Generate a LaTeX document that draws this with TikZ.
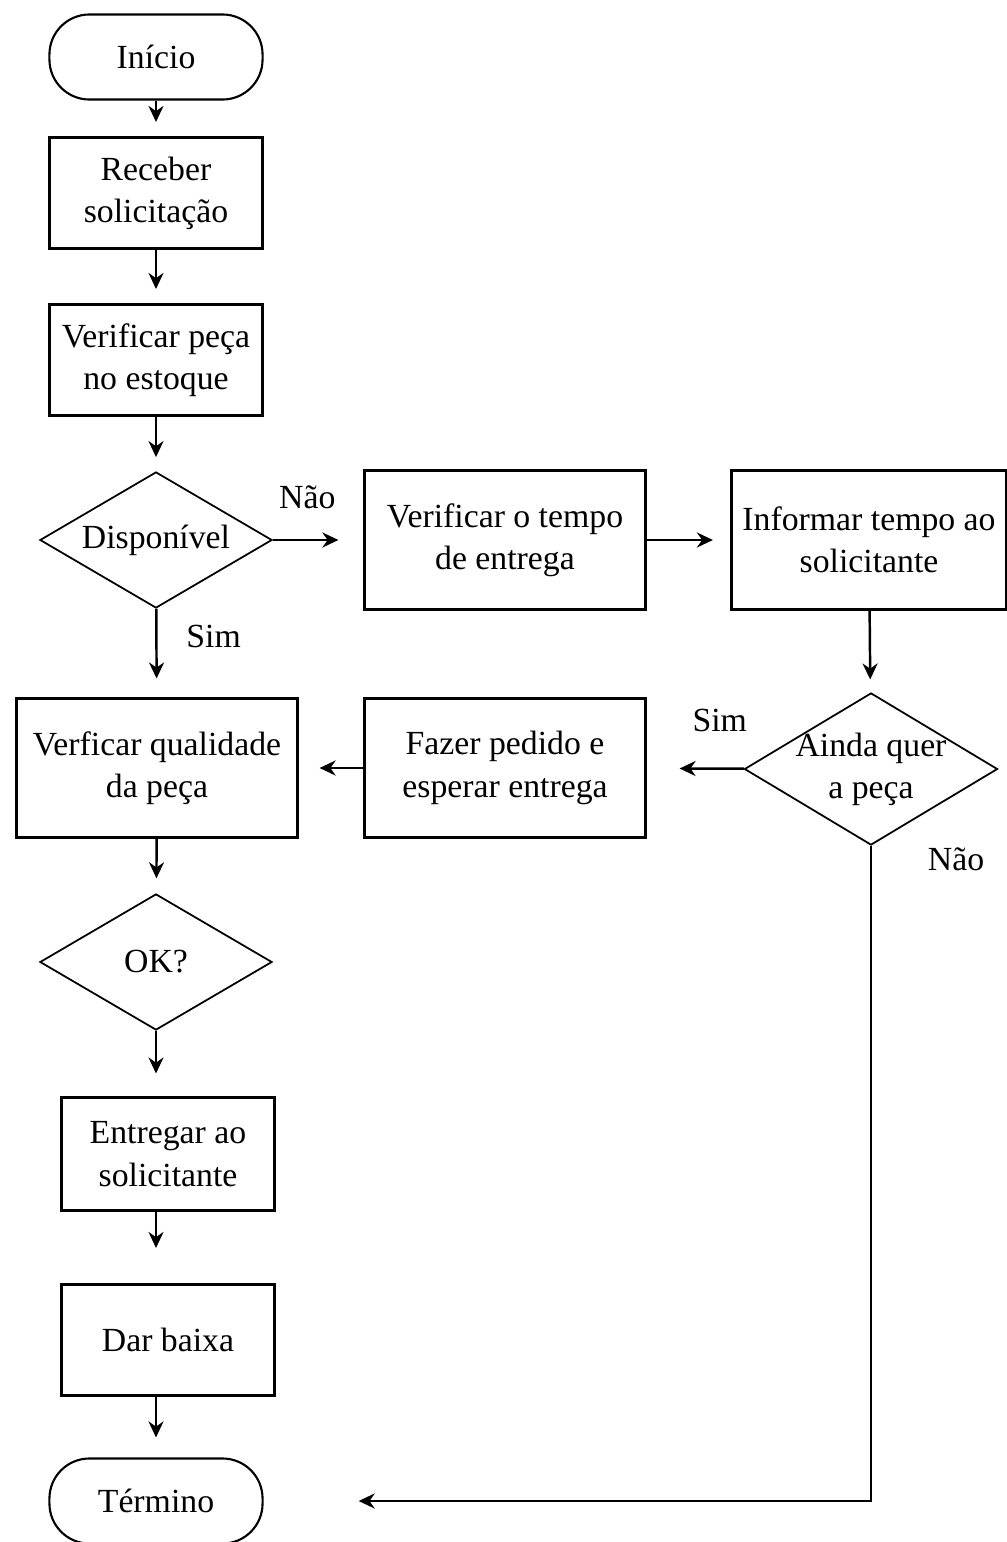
\documentclass[tikz,border=0pt]{standalone}
\usepackage{fontspec}
\setmainfont{Liberation Serif}
\usetikzlibrary{arrows.meta,shapes.geometric}

\begin{document}
\begin{tikzpicture}[x=0.01cm,y=-0.01cm,font=\fontsize{9.6}{12}\selectfont,
  term/.style={draw,line width=0.6pt,rounded corners=4mm,minimum width=21.3mm,minimum height=8.5mm},
  smallbox/.style={draw,line width=0.85pt,align=center,inner xsep=1pt,minimum width=21.3mm,minimum height=11.1mm},
  widebox/.style={draw,line width=0.85pt,align=center,inner xsep=1pt,minimum width=28mm,minimum height=13.8mm},
  decision/.style={draw,diamond,line width=0.5pt,inner sep=0pt,minimum width=23.2mm,minimum height=13.6mm},
  every path/.style={line width=0.7pt},
  flow/.style={-{Stealth[length=1.6mm,width=1.5mm]},shorten >=1.4mm}]
\useasboundingbox (0,0) rectangle (1007,1542);
% left column
\node[term](ini) at (156,57){Início};
\node[smallbox](rec) at (156,193){Receber\\ solicitação};
\node[smallbox](est) at (156,360){Verificar peça\\ no estoque};
\node[decision,label={center:Disponível}](disp) at (156,540){};
\node[widebox](qual) at (157,768){Verficar qualidade\\ da peça};
\node[decision,label={center:OK?}](ok) at (156,962){};
\node[smallbox,minimum height=11.2mm](ent) at (168,1154){Entregar ao\\ solicitante};
\node[smallbox](dar) at (168,1340){Dar baixa};
\node[term](fim) at (156,1501){Término};
% right part
\node[widebox](tempo) at (505,540){Verificar o tempo\\ de entrega};
\node[widebox,minimum width=27.5mm](info) at (869,540){Informar tempo ao\\ solicitante};
\node[decision,minimum width=25.3mm,minimum height=15.2mm,
  label={[align=center]center:Ainda quer\\ a peça}](quer) at (871,769){};
\node[widebox](fazer) at (505,768){Fazer pedido e\\ esperar entrega};
% connectors
\draw[flow](ini)--(rec);
\draw[flow](rec)--(est);
\draw[flow](est)--(disp);
\draw[flow,shorten >=2.5mm](disp)--node[pos=0.38,above=1.8mm]{Não}(tempo);
\draw[flow,shorten >=1.7mm](tempo)--(info);
\draw[flow,shorten >=1.3mm](info)--(quer);
\draw[flow,shorten >=3.3mm](quer)--node[pos=0.25,above=2.4mm]{Sim}(fazer);
\draw[flow,shorten >=2.1mm](fazer)--(qual);
\draw[flow,shorten >=1.9mm](disp)--node[pos=0.31,right=1.7mm]{Sim}(qual);
\draw[flow,shorten >=1.5mm](qual)--(ok);
\draw[flow,shorten >=2.3mm](ok)--(ok |- ent.north);
\draw[flow,shorten >=3.5mm](ent.south -| ok)--(dar.north -| ok);
\draw[flow,shorten >=2mm](dar.south -| fim)--(fim);
\draw[flow,shorten >=9.5mm](quer)|-node[pos=0.01,right=4.4mm]{Não}(fim);
\end{tikzpicture}
\end{document}
